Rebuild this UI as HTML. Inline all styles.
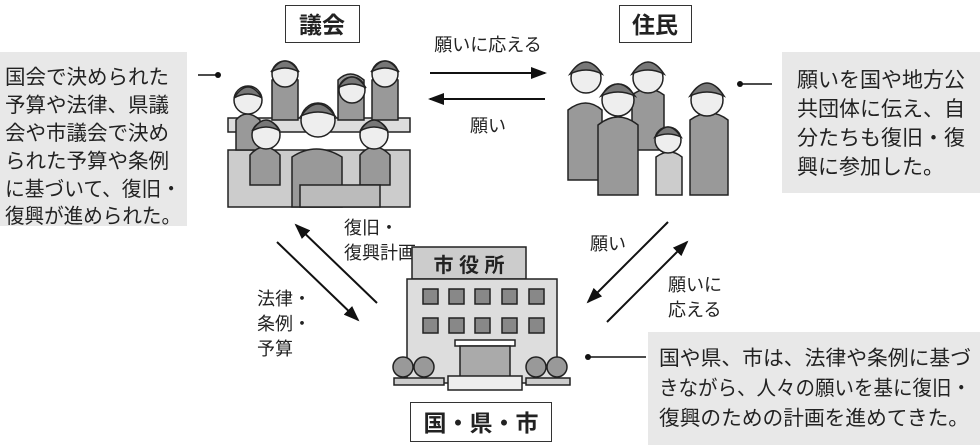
<!DOCTYPE html>
<html><head><meta charset="utf-8"><style>
body{margin:0;background:#fff;}
svg{display:block;}
text{font-family:"Liberation Sans","Noto Sans CJK JP",sans-serif;fill:#222;}
</style></head><body>
<svg width="980" height="445" viewBox="0 0 980 445" xmlns="http://www.w3.org/2000/svg">
<defs>
<marker id="ah2" markerWidth="16" markerHeight="12" refX="14" refY="6" orient="auto" markerUnits="userSpaceOnUse"><path d="M0,0 L16,6 L0,12 z" fill="#111"/></marker>
</defs>
<!-- gray boxes -->
<rect x="0" y="52" width="187" height="174" fill="#e8e8e8"/>
<g font-size="20.5">
<text x="5" y="84">国会で決められた</text>
<text x="5" y="112">予算や法律、県議</text>
<text x="5" y="140">会や市議会で決め</text>
<text x="5" y="168">られた予算や条例</text>
<text x="5" y="196" textLength="176" lengthAdjust="spacingAndGlyphs">に基づいて、復旧・</text>
<text x="5" y="223" textLength="176" lengthAdjust="spacingAndGlyphs">復興が進められた。</text>
</g>
<rect x="782" y="52" width="198" height="141" fill="#e8e8e8"/>
<g font-size="21">
<text x="797" y="87">願いを国や地方公</text>
<text x="797" y="116">共団体に伝え、自</text>
<text x="797" y="145">分たちも復旧・復</text>
<text x="797" y="174">興に参加した。</text>
</g>
<rect x="648" y="332" width="332" height="113" fill="#e8e8e8"/>
<g font-size="20.5">
<text x="659" y="365" textLength="312" lengthAdjust="spacingAndGlyphs">国や県、市は、法律や条例に基づ</text>
<text x="659" y="395" textLength="312" lengthAdjust="spacingAndGlyphs">きながら、人々の願いを基に復旧・</text>
<text x="659" y="425" textLength="310" lengthAdjust="spacingAndGlyphs">復興のための計画を進めてきた。</text>
</g>
<!-- dot connectors -->
<line x1="198" y1="75" x2="218" y2="75" stroke="#111" stroke-width="1.5"/><circle cx="218" cy="75" r="3" fill="#111"/>
<line x1="740" y1="84" x2="772" y2="84" stroke="#111" stroke-width="1.5"/><circle cx="740" cy="84" r="3" fill="#111"/>
<line x1="588" y1="357" x2="646" y2="357" stroke="#111" stroke-width="1.5"/><circle cx="588" cy="357" r="3" fill="#111"/>
<!-- title boxes -->
<rect x="285.5" y="5.5" width="74" height="37" fill="#fff" stroke="#333"/>
<text x="322" y="33" font-size="23" font-weight="bold" text-anchor="middle">議会</text>
<rect x="619.5" y="5.5" width="72" height="37" fill="#fff" stroke="#333"/>
<text x="655" y="33" font-size="23" font-weight="bold" text-anchor="middle">住民</text>
<rect x="410.5" y="402.5" width="141" height="39" fill="#fff" stroke="#333"/>
<text x="481" y="431" font-size="23" font-weight="bold" text-anchor="middle">国・県・市</text>
<!-- horizontal arrows -->
<text x="488" y="51" font-size="18" text-anchor="middle">願いに応える</text>
<line x1="430" y1="73" x2="545" y2="73" stroke="#111" stroke-width="2" marker-end="url(#ah2)"/>
<line x1="545" y1="99" x2="430" y2="99" stroke="#111" stroke-width="2" marker-end="url(#ah2)"/>
<text x="488" y="132" font-size="18" text-anchor="middle">願い</text>
<!-- diagonal arrows -->
<line x1="377" y1="303" x2="296" y2="225" stroke="#111" stroke-width="2" marker-end="url(#ah2)"/>
<line x1="277" y1="242" x2="358" y2="320" stroke="#111" stroke-width="2" marker-end="url(#ah2)"/>
<line x1="668" y1="222" x2="588" y2="302" stroke="#111" stroke-width="2" marker-end="url(#ah2)"/>
<line x1="607" y1="322" x2="687" y2="242" stroke="#111" stroke-width="2" marker-end="url(#ah2)"/>
<g font-size="18">
<text x="344" y="234">復旧・</text>
<text x="344" y="259">復興計画</text>
<text x="257" y="305">法律・</text>
<text x="257" y="330">条例・</text>
<text x="257" y="355">予算</text>
<text x="590" y="250">願い</text>
<text x="668" y="291">願いに</text>
<text x="668" y="316">応える</text>
</g>
<!-- council illustration -->
<g stroke="#222" stroke-width="1.5">
<rect x="228" y="150" width="182" height="57" fill="#ccc"/>
<rect x="228" y="118" width="182" height="14" fill="#ddd"/>
<g fill="#999">
<path d="M236,150 v-30 q10,-12 24,0 v30z"/><circle cx="248" cy="100" r="14" fill="#eee"/><path d="M234,98 q14,-22 28,0 q-14,-8 -28,0z" fill="#777"/>
<path d="M272,120 v-40 q12,-12 26,0 v40z"/><circle cx="285" cy="74" r="13" fill="#eee"/><path d="M271,72 q14,-22 28,0 q-14,-8 -28,0z" fill="#777"/>
<path d="M338,120 v-40 q12,-12 26,0 v40z"/><circle cx="352" cy="90" r="13" fill="#eee"/><path d="M338,88 q14,-22 28,0 q-14,-8 -28,0z" fill="#777"/>
<path d="M372,120 v-40 q12,-12 26,0 v40z"/><circle cx="385" cy="74" r="13" fill="#eee"/><path d="M371,72 q14,-22 28,0 q-14,-8 -28,0z" fill="#777"/>
<path d="M250,185 v-30 q14,-16 30,0 v30z"/><circle cx="266" cy="135" r="14" fill="#eee"/><path d="M252,131 q14,-22 28,0 q-14,-8 -28,0z" fill="#777"/>
<path d="M360,185 v-30 q14,-16 30,0 v30z"/><circle cx="374" cy="135" r="14" fill="#eee"/><path d="M360,131 q14,-22 28,0 q-14,-8 -28,0z" fill="#777"/>
<path d="M292,207 v-50 q24,-16 50,0 v50z"/><circle cx="318" cy="120" r="17" fill="#eee"/><path d="M301,116 q17,-24 34,0 q-17,-8 -34,0z" fill="#777"/>
</g>
<rect x="300" y="185" width="80" height="22" fill="#bbb"/>
</g>
<!-- residents illustration -->
<g stroke="#222" stroke-width="1.5">
<g fill="#999">
<path d="M568,180 v-70 q18,-14 34,0 v70z"/><circle cx="586" cy="78" r="15" fill="#eee"/><path d="M570,74 q16,-24 32,0 q-16,-8 -32,0z" fill="#777"/>
<path d="M632,150 v-55 q16,-12 32,0 v55z"/><circle cx="648" cy="78" r="15" fill="#eee"/><path d="M632,74 q16,-24 32,0 q-16,-8 -32,0z" fill="#777"/>
<path d="M598,195 v-70 q20,-16 40,0 v70z"/><circle cx="618" cy="100" r="16" fill="#eee"/><path d="M601,96 q17,-24 34,0 q-17,-8 -34,0z" fill="#777"/>
<path d="M690,195 v-75 q20,-14 38,0 v75z"/><circle cx="707" cy="100" r="16" fill="#eee"/><path d="M690,96 q17,-26 34,0 q-17,-8 -34,0z" fill="#777"/>
<path d="M656,195 v-38 q14,-10 26,0 v38z" fill="#ccc"/><circle cx="668" cy="140" r="13" fill="#eee"/><path d="M655,137 q13,-20 26,0 q-13,-6 -26,0z" fill="#777"/>
</g>
</g>
<!-- city hall -->
<g stroke="#222" stroke-width="1.5">
<rect x="412" y="247" width="114" height="32" fill="#ccc"/>
<text x="469" y="272" font-size="20" font-weight="bold" text-anchor="middle" stroke="none" fill="#222">市 役 所</text>
<rect x="407" y="279" width="150" height="104" fill="#ddd"/>
<g fill="#888">
<rect x="423" y="289" width="15" height="15"/><rect x="449" y="289" width="15" height="15"/><rect x="475" y="289" width="15" height="15"/><rect x="502" y="289" width="15" height="15"/><rect x="529" y="289" width="15" height="15"/>
<rect x="423" y="318" width="15" height="15"/><rect x="449" y="318" width="15" height="15"/><rect x="475" y="318" width="15" height="15"/><rect x="502" y="318" width="15" height="15"/><rect x="529" y="318" width="15" height="15"/>
</g>
<rect x="455" y="340" width="60" height="6" fill="#fff"/>
<rect x="460" y="346" width="50" height="37" fill="#aaa"/>
<rect x="448" y="376" width="74" height="14" fill="#eee"/>
<g fill="#999"><circle cx="403" cy="367" r="10"/><circle cx="424" cy="367" r="10"/><circle cx="536" cy="367" r="10"/><circle cx="557" cy="367" r="10"/></g>
<rect x="394" y="378" width="50" height="7" fill="#ccc"/><rect x="526" y="378" width="44" height="7" fill="#ccc"/>
</g>
</svg>
</body></html>
